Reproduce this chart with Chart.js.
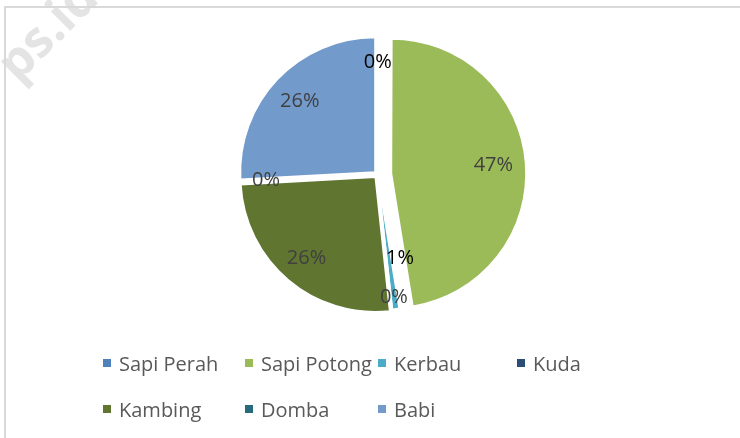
<!DOCTYPE html>
<html>
<head>
<meta charset="utf-8">
<script src="https://cdn.jsdelivr.net/npm/chart.js@4.4.1/dist/chart.umd.min.js"></script>
<style>
  html, body { margin: 0; padding: 0; background: #fff; }
  #wrap { position: relative; width: 740px; height: 438px; overflow: hidden; font-family: "Open Sans", sans-serif; }
  #frame { position: absolute; left: 4px; top: 6px; right: -10px; bottom: -10px; border-left: 2px solid #d9d9d9; border-top: 2px solid #d9d9d9; }
  #mark { position: absolute; left: -20px; top: 46px; font: bold 50px "Open Sans", sans-serif; color: #e4e4e4; transform: rotate(-45deg); transform-origin: left top; white-space: nowrap; }
  #chart { position: absolute; left: 0; top: 0; }
  #legend { position: absolute; left: 103px; top: 346px; display: grid; grid-template-columns: 142px 133px 139px auto; row-gap: 12px; font-size: 20px; color: #595959; }
  .item { display: flex; align-items: center; height: 34px; white-space: nowrap; }
  .box { width: 8px; height: 8px; margin-right: 8px; flex: none; }
</style>
</head>
<body>
<div id="wrap">
  <div id="mark">ps.id</div>
  <div id="frame"></div>
  <canvas id="chart" width="740" height="438"></canvas>
  <div id="legend"></div>
</div>
<script>
// share of livestock (percent)
const categories = ['Sapi Perah', 'Sapi Potong', 'Kerbau', 'Kuda', 'Kambing', 'Domba', 'Babi'];
const shares = [0.05, 47.4, 0.8, 0.05, 25.8, 0.05, 25.85];
const colors = ['#4f81bd', '#9bbb59', '#4bacc6', '#2c4d75', '#5f7530', '#276a7c', '#729aca'];

// exploded slices, px pulled out from the centre
const explode = [0, 14, 1, 0, 3.5, 0, 3.5];
// where each % label sits (fraction of radius) and its colour
const labelPos = [0.84, 0.76, 0.63, 0.92, 0.79, 0.83, 0.77];
const labelNudge = [[0, 1], [0, 0], [11, -1], [3, 0], [0, 0], [0, 0], [0, 0]];
const labelColors = ['#000000', '#404040', '#000000', '#404040', '#404040', '#404040', '#404040'];

const explodePlugin = {
  id: 'explode',
  beforeDatasetsDraw(chart) {
    const area = chart.chartArea;
    const cx = (area.left + area.right) / 2;
    const cy = (area.top + area.bottom) / 2;
    chart.getDatasetMeta(0).data.forEach((arc, i) => {
      const mid = (arc.startAngle + arc.endAngle) / 2;
      arc.x = cx + Math.cos(mid) * explode[i];
      arc.y = cy + Math.sin(mid) * explode[i];
    });
  }
};

const labelPlugin = {
  id: 'pctLabels',
  afterDatasetsDraw(chart) {
    const ctx = chart.ctx;
    const total = shares.reduce((a, b) => a + b, 0);
    ctx.save();
    ctx.font = '20px "Open Sans", sans-serif';
    ctx.textAlign = 'center';
    ctx.textBaseline = 'middle';
    chart.getDatasetMeta(0).data.forEach((arc, i) => {
      const mid = (arc.startAngle + arc.endAngle) / 2;
      const r = arc.outerRadius * labelPos[i];
      const x = arc.x + Math.cos(mid) * r + labelNudge[i][0];
      const y = arc.y + Math.sin(mid) * r + labelNudge[i][1];
      ctx.fillStyle = labelColors[i];
      ctx.fillText(Math.round(shares[i] / total * 100) + '%', x, y);
    });
    ctx.restore();
  }
};

new Chart(document.getElementById('chart'), {
  type: 'pie',
  data: {
    labels: categories,
    datasets: [{
      data: shares,
      backgroundColor: colors,
      borderColor: '#ffffff',
      borderWidth: 1.5
    }]
  },
  options: {
    responsive: false,
    animation: false,
    radius: 134.5,
    layout: { padding: { left: 100, right: 85, top: 20, bottom: 109 } },
    plugins: {
      legend: { display: false },
      tooltip: { enabled: false }
    }
  },
  plugins: [explodePlugin, labelPlugin]
});

let legendHtml = '';
categories.forEach((c, i) => {
  legendHtml += `<div class="item"><span class="box" style="background:${colors[i]}"></span>${c}</div>`;
});
document.getElementById('legend').innerHTML = legendHtml;
</script>
</body>
</html>
